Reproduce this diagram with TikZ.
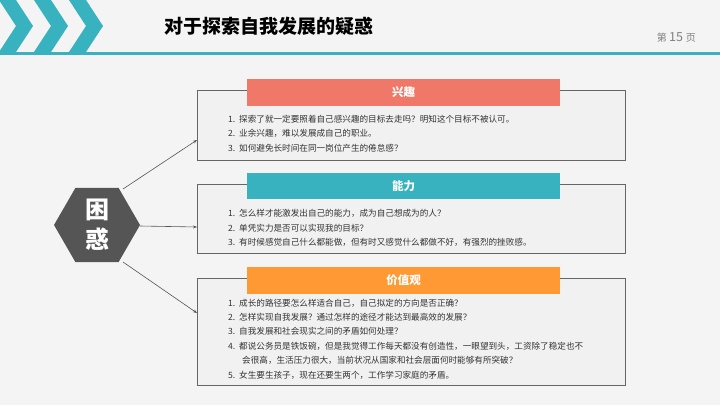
\documentclass[tikz,border=0pt]{standalone}
\usepackage{fontspec}
\setmainfont{Noto Sans CJK SC}
\usetikzlibrary{shapes.geometric,arrows.meta}
\definecolor{teal}{HTML}{38B2BF}
\definecolor{salmon}{HTML}{F07868}
\definecolor{orng}{HTML}{FF9933}
\definecolor{bg}{HTML}{F4F4F4}
\definecolor{box}{HTML}{F1F1F1}
\definecolor{hex}{HTML}{555555}
\begin{document}
\begin{tikzpicture}[x=1pt,y=-1pt,
  frame/.style={draw=gray!80!black,fill=box,line width=0.8pt},
  head/.style={text=white,font=\bfseries\fontsize{11.5}{13}\selectfont},
  item/.style={anchor=west,inner sep=0pt,text=black!80,font=\fontsize{8.6}{10}\selectfont},
  conn/.style={draw=hex,line width=0.6pt,-{Stealth[length=4pt]}}]
\fill[bg] (0,0) rectangle (720,405);
\useasboundingbox (0,0) rectangle (720,405);
\foreach \x in {-1,34,69}{
  \fill[teal] (\x,0) -- (\x+17,0) -- (\x+34,26) -- (\x+17,52) -- (\x,52) -- (\x+17,26) -- cycle;}
\fill[teal] (0,52) rectangle (720,55);
\node[anchor=west,inner sep=0pt,font=\bfseries\fontsize{19}{21}\selectfont] (title) at (164,26) {对于探索自我发展的疑惑};
\node[anchor=east,inner sep=0pt,text=gray,font=\fontsize{10}{12}\selectfont] (page) at (696,37) {第 \fontsize{12.5}{14}\selectfont 15 \fontsize{10}{12}\selectfont 页};

\node[regular polygon,regular polygon sides=6,shape border rotate=0,fill=hex,minimum size=86pt,inner sep=0pt] (hx) at (97,225) {};
\node[text=white,font=\bfseries\fontsize{24}{30}\selectfont,align=center] (hxt) at (97,225) {困\\惑};

\draw[frame] (197,90) rectangle (625,160);
\node[fill=salmon,minimum width=313pt,minimum height=27pt,inner sep=0pt,head] (h1) at (403.5,92.5) {兴趣};
\node[item] (a1) at (228,119) {1.\ \ 探索了就一定要照着自己感兴趣的目标去走吗？明知这个目标不被认可。};
\node[item] (a2) at (228,133) {2.\ \ 业余兴趣，难以发展成自己的职业。};
\node[item] (a3) at (228,148) {3.\ \ 如何避免长时间在同一岗位产生的倦怠感？};

\draw[frame] (197,184) rectangle (625,253);
\node[fill=teal,minimum width=313pt,minimum height=26pt,inner sep=0pt,head] (h2) at (403.5,186) {能力};
\node[item] (b1) at (228,213) {1.\ \ 怎么样才能激发出自己的能力，成为自己想成为的人？};
\node[item] (b2) at (228,228) {2.\ \ 单凭实力是否可以实现我的目标？};
\node[item] (b3) at (228,242) {3.\ \ 有时候感觉自己什么都能做，但有时又感觉什么都做不好，有强烈的挫败感。};

\draw[frame] (197,278) rectangle (625,385);
\node[fill=orng,minimum width=313pt,minimum height=27pt,inner sep=0pt,head] (h3) at (403.5,280.5) {价值观};
\node[item] (c1) at (228,303) {1.\ \ 成长的路径要怎么样适合自己，自己拟定的方向是否正确？};
\node[item] (c2) at (228,317) {2.\ \ 怎样实现自我发展？通过怎样的途径才能达到最高效的发展？};
\node[item] (c3) at (228,331) {3.\ \ 自我发展和社会现实之间的矛盾如何处理？};
\node[item] (c4) at (228,346) {4.\ \ 都说公务员是铁饭碗，但是我觉得工作每天都没有创造性，一眼望到头，工资除了稳定也不};
\node[item] (c4b) at (242,360) {会很高，生活压力很大，当前状况从国家和社会层面何时能够有所突破？};
\node[item] (c5) at (228,375) {5.\ \ 女生要生孩子，现在还要生两个，工作学习家庭的矛盾。};

\coordinate (s1) at (123,189);
\coordinate (s2) at (140,226);
\coordinate (s3) at (123,262);
\coordinate (e1) at (197,140);
\coordinate (e2) at (197,227);
\coordinate (e3) at (197,313);
\draw[conn] (s1) -- (e1);
\draw[conn] (s2) -- (e2);
\draw[conn] (s3) -- (e3);
\end{tikzpicture}
\end{document}
